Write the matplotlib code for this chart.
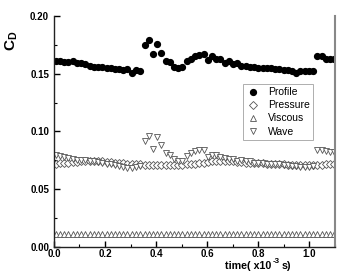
import matplotlib
matplotlib.use("Agg")
import matplotlib.pyplot as plt
from matplotlib.ticker import MultipleLocator

plt.rcParams['font.family'] = ['Liberation Sans', 'DejaVu Sans']

time = [0.008, 0.024, 0.041, 0.057, 0.074, 0.090, 0.107, 0.123, 0.140, 0.156,
        0.173, 0.189, 0.206, 0.222, 0.239, 0.255, 0.272, 0.288, 0.305, 0.321,
        0.338, 0.355, 0.371, 0.388, 0.404, 0.421, 0.437, 0.454, 0.470, 0.487,
        0.503, 0.520, 0.536, 0.553, 0.569, 0.586, 0.602, 0.619, 0.635, 0.652,
        0.668, 0.685, 0.701, 0.718, 0.734, 0.751, 0.767, 0.784, 0.800, 0.817,
        0.833, 0.850, 0.866, 0.883, 0.899, 0.916, 0.932, 0.949, 0.965, 0.982,
        0.998, 1.015, 1.031, 1.048, 1.064, 1.081, 1.097]

profile = [0.161, 0.161, 0.160, 0.160, 0.161, 0.159, 0.159, 0.158, 0.157, 0.156,
           0.156, 0.156, 0.155, 0.155, 0.154, 0.154, 0.153, 0.154, 0.151, 0.153,
           0.152, 0.175, 0.179, 0.167, 0.176, 0.168, 0.161, 0.160, 0.156, 0.155,
           0.156, 0.161, 0.163, 0.165, 0.166, 0.167, 0.162, 0.165, 0.163, 0.163,
           0.159, 0.161, 0.158, 0.159, 0.157, 0.157, 0.156, 0.156, 0.155, 0.155,
           0.155, 0.155, 0.154, 0.154, 0.153, 0.153, 0.152, 0.151, 0.152, 0.152,
           0.152, 0.152, 0.165, 0.165, 0.163, 0.163, 0.163]

pressure = [0.072, 0.0725, 0.073, 0.073, 0.0735, 0.0735, 0.074, 0.074, 0.074, 0.074,
            0.074, 0.074, 0.0735, 0.0735, 0.073, 0.073, 0.0725, 0.072, 0.072, 0.0715,
            0.0715, 0.071, 0.071, 0.0705, 0.0705, 0.0705, 0.0705, 0.0705, 0.071, 0.071,
            0.071, 0.0715, 0.072, 0.072, 0.0725, 0.073, 0.0735, 0.074, 0.074, 0.0745,
            0.0745, 0.074, 0.074, 0.0735, 0.0735, 0.073, 0.073, 0.073, 0.0725, 0.0725,
            0.072, 0.072, 0.072, 0.0715, 0.0715, 0.071, 0.071, 0.0705, 0.0705, 0.0705,
            0.0705, 0.0705, 0.071, 0.071, 0.0715, 0.0715, 0.0715]

viscous = [0.011] * 67

wave = [0.080, 0.079, 0.078, 0.077, 0.076, 0.0755, 0.075, 0.075, 0.0745, 0.074,
        0.0735, 0.073, 0.072, 0.0715, 0.071, 0.070, 0.069, 0.0685, 0.068, 0.069,
        0.070, 0.092, 0.096, 0.085, 0.095, 0.088, 0.081, 0.080, 0.076, 0.074,
        0.074, 0.079, 0.081, 0.083, 0.084, 0.084, 0.078, 0.080, 0.080, 0.078,
        0.077, 0.076, 0.076, 0.074, 0.075, 0.074, 0.074, 0.073, 0.073, 0.073,
        0.072, 0.072, 0.072, 0.072, 0.071, 0.071, 0.070, 0.070, 0.069, 0.069,
        0.069, 0.070, 0.084, 0.084, 0.083, 0.082, 0.082]

xticks = [0.0, 0.2, 0.4, 0.6, 0.8, 1.0]
yticks = [0.00, 0.05, 0.10, 0.15, 0.20]

fig = plt.figure(figsize=(3.39, 2.71), dpi=100)
ax = fig.add_axes([0.159, 0.089, 0.829, 0.852])

edge = '#555555'
ax.plot(time, profile, 'o', color='black', ms=4.2, mec='black', label='Profile')
ax.plot(time, pressure, 'D', mfc='white', mec=edge, ms=3.6, mew=0.6, label='Pressure')
ax.plot(time, viscous, '^', mfc='white', mec=edge, ms=4.0, mew=0.6, label='Viscous')
ax.plot(time, wave, 'v', mfc='white', mec=edge, ms=4.8, mew=0.6, label='Wave')

ax.set_xlim(0, 1.1)
ax.set_ylim(0, 0.20)
ax.set_xticks(xticks)
ax.set_yticks(yticks)
ax.set_xticklabels([f"{v:.1f}" for v in xticks], fontsize=7, fontweight='bold')
ax.set_yticklabels([f"{v:.2f}" for v in yticks], fontsize=7, fontweight='bold')
ax.xaxis.set_minor_locator(MultipleLocator(0.1))
ax.yaxis.set_minor_locator(MultipleLocator(0.025))
ax.tick_params(which='major', direction='in', length=4, width=1)
ax.tick_params(axis='x', which='major', pad=1.2)
ax.tick_params(axis='y', which='major', pad=3.5)
ax.tick_params(which='minor', direction='in', length=2, width=0.8)
ax.tick_params(top=False, right=False)

for s in ['left', 'bottom']:
    ax.spines[s].set_linewidth(1.0)
    ax.spines[s].set_color('#222222')
ax.spines['right'].set_color('#888888')
ax.spines['right'].set_linewidth(1.5)
ax.spines['top'].set_visible(False)

leg = ax.legend(loc='upper left', bbox_to_anchor=(0.655, 0.73), fontsize=7.5,
                frameon=True, fancybox=False, edgecolor='#999999',
                handletextpad=0.8, borderpad=0.35, labelspacing=0.3,
                handlelength=1.2)
leg.get_frame().set_linewidth(0.7)

fig.text(0.035, 0.85, r'C$_\mathregular{D}$', rotation=90, fontsize=11,
         ha='center', va='center', fontweight='bold')

# x label built in pieces so the superscript sits between tick labels
fig.canvas.draw()
renderer = fig.canvas.get_renderer()
W, H = fig.bbox.width, fig.bbox.height
base_y = 0.008
t1 = fig.text(0.664, base_y, 'time( x10', fontsize=7.7, fontweight='bold',
              ha='left', va='baseline')
bb1 = t1.get_window_extent(renderer)
t2 = fig.text((bb1.x1 + 1) / W, base_y + 6.0 / H, '-3', fontsize=5.8,
              fontweight='bold', ha='left', va='baseline')
bb2 = t2.get_window_extent(renderer)
fig.text((bb2.x1 + 1.5) / W, base_y, 's)', fontsize=7.7, fontweight='bold',
         ha='left', va='baseline')

fig.savefig('out.png', dpi=100)
